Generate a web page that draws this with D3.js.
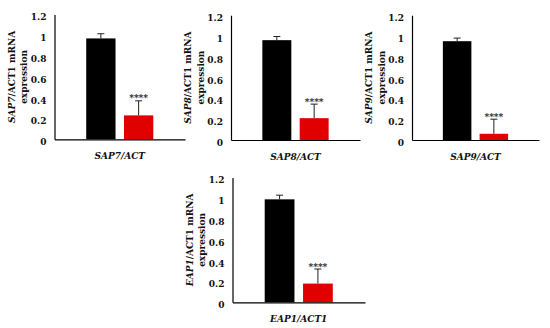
<!DOCTYPE html>
<html>
<head>
<meta charset='utf-8'>
<style>
body {
  margin: 0;
  background: #fff;
}
svg {
  display: block;
  font-family: "DejaVu Serif", serif;
  font-weight: bold;
}
.axis path {
  stroke: #000;
  stroke-width: 1.2px;
}
.axis text {
  font-family: "DejaVu Serif", serif;
  font-size: 9px;
  font-weight: bold;
  fill: #111;
}
</style>
</head>
<body>
<svg width="550" height="328"></svg>
<script src="https://d3js.org/d3.v7.min.js"></script>
<script>

// gene names and reference labels, one per panel
var genes = ["SAP7", "SAP8", "SAP9", "EAP1"];
var refLabels = ["/ACT", "/ACT", "/ACT", "/ACT1"];
var groups = ["control", "treated"];

// relative expression
var controlValues = [0.97, 0.96, 0.95, 0.99];
var controlErr = [0.045, 0.035, 0.03, 0.04];
var treatedValues = [0.23, 0.21, 0.06, 0.18];
var treatedErr = [0.14, 0.135, 0.14, 0.14];
var stars = ["****", "****", "****", "****"];

var yTicks = [0, 0.2, 0.4, 0.6, 0.8, 1, 1.2];
var barColors = {control: "#000000", treated: "#e00000"};

// where each panel sits (left of y axis, right end of x axis, y of zero)
var panels = [
  {left: 54.5, right: 185, zero: 139.3},
  {left: 231, right: 360, zero: 140},
  {left: 412, right: 539, zero: 140},
  {left: 232.5, right: 365, zero: 302.3}
];
var pxPerUnit = 104;

var svg = d3.select("svg");
svg.append("rect").attr("width", 550).attr("height", 328).attr("fill", "#fff");

genes.forEach(function(gene, i) {
  var p = panels[i];
  var g = svg.append("g");

  var x = d3.scaleBand()
    .domain(groups)
    .range([p.left, p.right])
    .paddingInner(0.224)
    .paddingOuter(0.84);

  var y = d3.scaleLinear()
    .domain([0, 1.2])
    .range([p.zero, p.zero - 1.2 * pxPerUnit]);

  var rows = [
    {grp: "control", v: controlValues[i], e: controlErr[i]},
    {grp: "treated", v: treatedValues[i], e: treatedErr[i]}
  ];

  // bars
  g.selectAll("rect.bar")
    .data(rows)
    .enter().append("rect")
      .attr("class", "bar")
      .attr("x", d => x(d.grp))
      .attr("width", x.bandwidth())
      .attr("y", d => y(d.v))
      .attr("height", d => y(0) - y(d.v))
      .attr("fill", d => barColors[d.grp]);

  // error bars, upward only
  var eb = g.selectAll("g.err")
    .data(rows)
    .enter().append("g")
      .attr("class", "err")
      .attr("stroke", "#222")
      .attr("stroke-width", 1);
  eb.append("line")
    .attr("x1", d => x(d.grp) + x.bandwidth() / 2)
    .attr("x2", d => x(d.grp) + x.bandwidth() / 2)
    .attr("y1", d => y(d.v))
    .attr("y2", d => y(d.v + d.e));
  eb.append("line")
    .attr("x1", d => x(d.grp) + x.bandwidth() / 2 - 3.5)
    .attr("x2", d => x(d.grp) + x.bandwidth() / 2 + 3.5)
    .attr("y1", d => y(d.v + d.e))
    .attr("y2", d => y(d.v + d.e));

  // significance
  g.append("text")
    .attr("x", x("treated") + x.bandwidth() / 2)
    .attr("y", y(treatedValues[i] + treatedErr[i]) + 0.5)
    .attr("text-anchor", "middle")
    .attr("font-size", 9)
    .attr("fill", "#222")
    .text(stars[i]);

  // axes
  var yAxis = d3.axisLeft(y)
    .tickValues(yTicks)
    .tickSize(0)
    .tickPadding(8)
    .tickFormat(d3.format("~g"));
  var ya = g.append("g")
    .attr("class", "axis")
    .attr("transform", "translate(" + p.left + ",0)")
    .call(yAxis);
  ya.selectAll("text").attr("dy", "0.6em");

  g.append("g")
    .attr("class", "axis")
    .attr("transform", "translate(0," + p.zero + ")")
    .call(d3.axisBottom(x).tickSize(0).tickFormat(""));

  // x label
  g.append("text")
    .attr("x", (p.left + p.right) / 2)
    .attr("y", p.zero + 19.5)
    .attr("text-anchor", "middle")
    .attr("font-size", 9)
    .attr("font-style", "italic")
    .attr("fill", "#111")
    .text(gene + refLabels[i]);

  // y label, two lines rotated
  var cy = (y(0) + y(1.2)) / 2;
  var yl = g.append("text")
    .attr("transform", "translate(" + (p.left - 40) + "," + cy + ") rotate(-90)")
    .attr("text-anchor", "middle")
    .attr("font-size", 9)
    .attr("fill", "#111");
  yl.append("tspan").attr("font-style", "italic").text(gene);
  yl.append("tspan").text("/ACT1 mRNA");
  g.append("text")
    .attr("transform", "translate(" + (p.left - 27.5) + "," + cy + ") rotate(-90)")
    .attr("text-anchor", "middle")
    .attr("font-size", 9)
    .attr("fill", "#111")
    .text("expression");
});

</script>
</body>
</html>
